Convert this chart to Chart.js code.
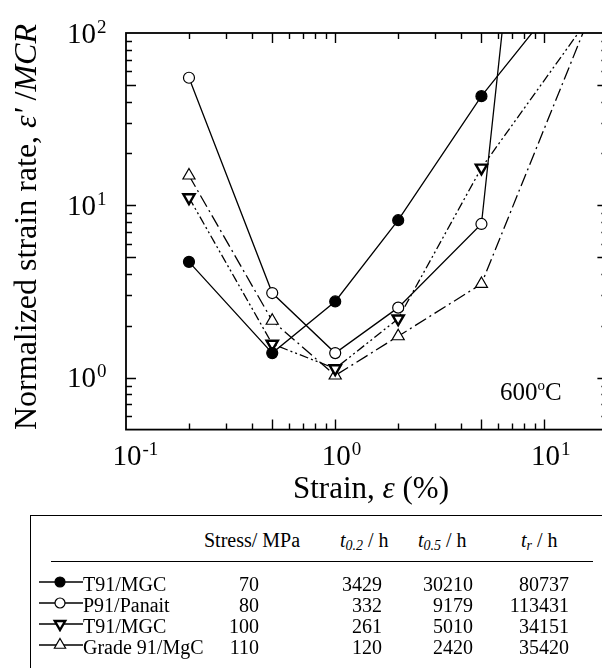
<!DOCTYPE html>
<html>
<head>
<meta charset="utf-8">
<script src="https://cdn.jsdelivr.net/npm/chart.js@4.4.0/dist/chart.umd.min.js"></script>
<style>
    html, body { margin: 0; padding: 0; background: #fff; }
    body {
        width: 602px; height: 668px; overflow: hidden; position: relative;
        font-family: 'Liberation Serif', 'Times New Roman', serif; color: #000;
    }
    #plot { position: absolute; left: 0; top: 0; }
    #tableBox {
        position: absolute; left: 30px; top: 515px; width: 640px; height: 220px;
        border: 1.5px solid #000;
    }
    #headRule { position: absolute; left: 51px; top: 561px; width: 542px; border-top: 1.5px solid #000; }
    .cell {
        position: absolute; font-family: 'Liberation Serif', 'Times New Roman', serif;
        font-size: 20px; line-height: 20px; white-space: nowrap;
    }
    .num { width: 120px; text-align: right; }
    .cell sub { font-size: 14px; line-height: 0; vertical-align: -3px; }
    .mark { position: absolute; }
</style>
</head>
<body>
<canvas id="plot" width="620" height="505"></canvas>
<div id="tableBox"></div>
<div id="headRule"></div>
<div id="table"></div>

<script>
// strain values (%) of the measured points
const STRAIN = [0.2, 0.5, 1, 2, 5];

// normalized strain rate for each test
const RATE_T91_70 = [4.7, 1.39, 2.77, 8.2, 43];
const RATE_P91_80 = [55, 3.1, 1.39, 2.55, 7.8];
const RATE_T91_100 = [11.1, 1.57, 1.13, 2.2, 16.5];
const RATE_G91_110 = [14.9, 2.14, 1.03, 1.74, 3.5];

// last point of each curve, above the plot (line leaves through the top edge)
const EXIT_STRAIN = [10, 6.5, 20, 20];
const EXIT_RATE = [123, 150, 172, 224];

// tick labels (powers of ten)
const X_LABEL_EXP = [-1, 0, 1];
const Y_LABEL_EXP = [0, 1, 2];

// table
const SERIES_NAMES = ['T91/MGC', 'P91/Panait', 'T91/MGC', 'Grade 91/MgC'];
const STRESS = [70, 80, 100, 110];
const T_02 = [3429, 332, 261, 120];
const T_05 = [30210, 9179, 5010, 2420];
const T_R = [80737, 113431, 34151, 35420];

const RATES = [RATE_T91_70, RATE_P91_80, RATE_T91_100, RATE_G91_110];

const STYLES = [
    { pointStyle: 'circle', radius: 5.5, fill: '#000', dash: [], rotation: 0, pw: 1.2 },
    { pointStyle: 'circle', radius: 5.5, fill: '#fff', dash: [], rotation: 0, pw: 1.2 },
    { pointStyle: 'triangle', radius: 6.5, fill: '#fff', dash: [9, 3, 2, 3, 2, 3], rotation: 180, pw: 2.4 },
    { pointStyle: 'triangle', radius: 7, fill: '#fff', dash: [13, 4, 2, 4], rotation: 0, pw: 1.2 }
];

const SERIF = "'Liberation Serif', 'Times New Roman', serif";

// datasets
const datasets = RATES.map((rates, i) => {
    const s = STYLES[i];
    const points = STRAIN.map((x, j) => ({ x: x, y: rates[j] }));
    points.push({ x: EXIT_STRAIN[i], y: EXIT_RATE[i] });
    return {
        label: SERIES_NAMES[i] + ' ' + STRESS[i],
        data: points,
        borderColor: '#000',
        borderWidth: 1.3,
        borderDash: s.dash,
        pointStyle: s.pointStyle,
        pointRadius: s.radius,
        pointRotation: s.rotation,
        pointBackgroundColor: s.fill,
        pointBorderColor: '#000',
        pointBorderWidth: s.pw,
        tension: 0,
        fill: false
    };
});

// 1..9 x 10^n ticks inside the range
function logTicks(min, max) {
    const out = [];
    for (let d = Math.floor(Math.log10(min)); d <= Math.ceil(Math.log10(max)); d++) {
        for (let m = 1; m <= 9; m++) {
            const v = parseFloat((m * Math.pow(10, d)).toPrecision(3));
            if (v > min * 1.001 && v < max * 0.999) out.push({ v: v, long: m === 1 || m === 5 });
        }
    }
    return out;
}

// "10" with the exponent raised
function drawPower(ctx, exp, x, baseline, align) {
    ctx.font = '29px ' + SERIF;
    const w = ctx.measureText('10').width;
    const left = align === 'center' ? x - w / 2 : x - w;
    ctx.fillText('10', left, baseline);
    ctx.font = '19px ' + SERIF;
    ctx.fillText(String(exp), left + w + 1, baseline - 10);
}

// text made of pieces in different fonts
function drawPieces(ctx, pieces, x, baseline, center) {
    let total = 0;
    pieces.forEach(p => { ctx.font = p.font; total += ctx.measureText(p.text).width; });
    let cx = center ? x - total / 2 : x;
    pieces.forEach(p => {
        ctx.font = p.font;
        ctx.fillText(p.text, cx, baseline + (p.dy || 0));
        cx += ctx.measureText(p.text).width;
    });
}

const frameAndLabels = {
    id: 'frameAndLabels',
    afterDraw(chart) {
        const { ctx, chartArea: a, scales: { x, y } } = chart;
        ctx.save();
        ctx.strokeStyle = '#000';
        ctx.fillStyle = '#000';
        ctx.lineWidth = 1.8;
        ctx.strokeRect(a.left, a.top, a.right - a.left, a.bottom - a.top);

        // inward ticks on all four sides
        ctx.lineWidth = 1.4;
        ctx.beginPath();
        logTicks(x.min, x.max).forEach(t => {
            const px = Math.round(x.getPixelForValue(t.v)) + 0.5;
            const len = t.long ? 10 : 6;
            ctx.moveTo(px, a.bottom); ctx.lineTo(px, a.bottom - len);
            ctx.moveTo(px, a.top); ctx.lineTo(px, a.top + len);
        });
        logTicks(y.min, y.max).forEach(t => {
            const py = Math.round(y.getPixelForValue(t.v)) + 0.5;
            const len = t.long ? 10 : 6;
            ctx.moveTo(a.left, py); ctx.lineTo(a.left + len, py);
            ctx.moveTo(a.right, py); ctx.lineTo(a.right - len, py);
        });
        ctx.stroke();

        // tick labels
        ctx.textAlign = 'left';
        ctx.textBaseline = 'alphabetic';
        X_LABEL_EXP.forEach(e => {
            drawPower(ctx, e, x.getPixelForValue(Math.pow(10, e)) + 1, a.bottom + 35.5, 'center');
        });
        Y_LABEL_EXP.forEach(e => {
            drawPower(ctx, e, a.left - 30, y.getPixelForValue(Math.pow(10, e)) + 9.5, 'right');
        });

        // axis titles
        const big = '31px ' + SERIF;
        const bigIt = 'italic 31px ' + SERIF;
        drawPieces(ctx, [
            { text: 'Strain, ', font: big },
            { text: 'ε', font: bigIt },
            { text: ' (%)', font: big }
        ], 371, 498, true);

        ctx.save();
        ctx.translate(36, 227);
        ctx.rotate(-Math.PI / 2);
        drawPieces(ctx, [
            { text: 'Normalized strain rate, ', font: '32px ' + SERIF },
            { text: "ε'", font: 'italic 32px ' + SERIF },
            { text: ' /', font: '32px ' + SERIF },
            { text: 'MCR', font: 'italic 32px ' + SERIF }
        ], 0, 0, true);
        ctx.restore();

        // temperature note
        drawPieces(ctx, [
            { text: '600', font: '25px ' + SERIF },
            { text: 'o', font: '15px ' + SERIF, dy: -10 },
            { text: 'C', font: '25px ' + SERIF }
        ], 500, 400, false);
        ctx.restore();
    }
};

new Chart(document.getElementById('plot'), {
    type: 'line',
    data: { datasets: datasets },
    options: {
        responsive: false,
        animation: false,
        layout: { padding: { left: 126, top: 33, right: 12.6, bottom: 75.4 } },
        plugins: {
            legend: { display: false },
            tooltip: { enabled: false }
        },
        scales: {
            x: { type: 'logarithmic', min: 0.1, max: 20, display: false },
            y: { type: 'logarithmic', min: 0.5, max: 100, display: false }
        }
    },
    plugins: [frameAndLabels]
});

// legend marks for the table
function drawMark(canvas, s) {
    const c = canvas.getContext('2d');
    const cx = 22, cy = 8;
    c.strokeStyle = '#000';
    c.lineWidth = 1.3;
    c.beginPath(); c.moveTo(1, cy); c.lineTo(45, cy); c.stroke();
    c.fillStyle = s.fill;
    c.lineWidth = s.pw;
    c.beginPath();
    if (s.pointStyle === 'circle') {
        c.arc(cx, cy, 5, 0, Math.PI * 2);
    } else {
        const r = s.radius - 0.5;
        const flip = s.rotation === 180 ? -1 : 1;
        c.moveTo(cx, cy - flip * r);
        c.lineTo(cx + r * 0.866, cy + flip * r * 0.5);
        c.lineTo(cx - r * 0.866, cy + flip * r * 0.5);
        c.closePath();
    }
    c.fill();
    c.stroke();
}

// table text
const table = document.getElementById('table');
function addCell(html, left, baseline, cls) {
    const el = document.createElement('div');
    el.className = 'cell ' + (cls || '');
    el.innerHTML = html;
    el.style.left = left + 'px';
    el.style.top = (baseline - 17) + 'px';
    table.appendChild(el);
}

const HEAD_BASE = 547;
addCell('Stress/ MPa', 204, HEAD_BASE);
addCell('<i>t</i><sub><i>0.2</i></sub> / h', 340, HEAD_BASE);
addCell('<i>t</i><sub><i>0.5</i></sub> / h', 418, HEAD_BASE);
addCell('<i>t</i><sub><i>r</i></sub> / h', 521, HEAD_BASE);

const ROW_BASE = 591;
const ROW_STEP = 21;
SERIES_NAMES.forEach((name, i) => {
    const base = ROW_BASE + i * ROW_STEP;
    const mark = document.createElement('canvas');
    mark.className = 'mark';
    mark.width = 46; mark.height = 16;
    mark.style.left = '38px';
    mark.style.top = (base - 9 - 8) + 'px';
    table.appendChild(mark);
    drawMark(mark, STYLES[i]);

    addCell(name, 83, base);
    addCell(String(STRESS[i]), 259 - 120, base, 'num');
    addCell(String(T_02[i]), 382 - 120, base, 'num');
    addCell(String(T_05[i]), 473 - 120, base, 'num');
    addCell(String(T_R[i]), 569 - 120, base, 'num');
});
</script>
</body>
</html>
